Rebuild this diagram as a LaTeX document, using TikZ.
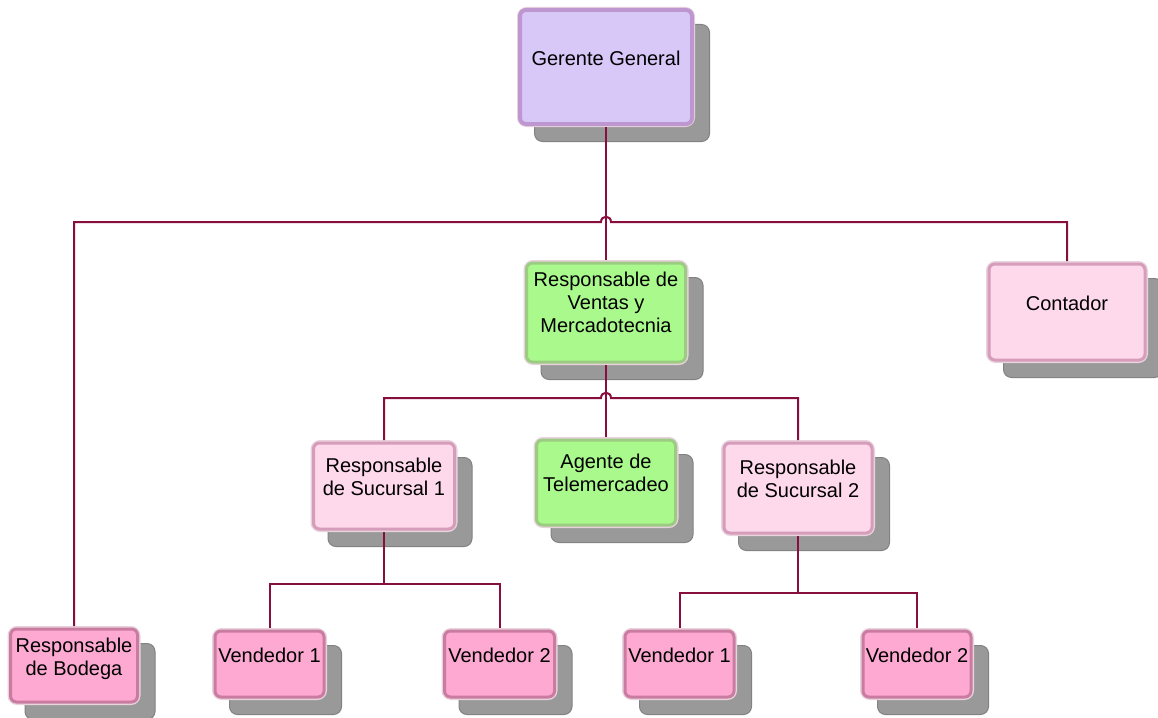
\documentclass[tikz,border=0pt]{standalone}
\usepackage{fontspec}
\setmainfont{Liberation Sans}
\usetikzlibrary{shadows}
\definecolor{lav}{HTML}{D8C8F8}
\definecolor{lavin}{HTML}{BE96D0}
\definecolor{grn}{HTML}{A9F98C}
\definecolor{grnin}{HTML}{9CCB82}
\definecolor{lpk}{HTML}{FED8EB}
\definecolor{lpkin}{HTML}{D69DBA}
\definecolor{pk}{HTML}{FDA9D2}
\definecolor{pkin}{HTML}{C97BA0}
\definecolor{outring}{HTML}{E9D2DE}
\definecolor{shadowgray}{HTML}{999999}
\definecolor{linecol}{HTML}{880E3E}
\tikzset{
  box/.style={rounded corners=8pt, line width=3pt, draw=outring, inner sep=0pt,
    general shadow={fill=shadowgray, draw=shadowgray!85!black, line width=1pt, shadow xshift=16pt, shadow yshift=-16pt}},
  lbl/.style={align=center, font=\fontsize{20}{23}\selectfont, inner sep=0pt},
  conn/.style={draw=linecol, line width=2pt},
}
\newcommand\ring[3]{\draw[rounded corners=6pt, line width=#3, draw=#2] ([xshift=3pt,yshift=-3pt]#1.north west) rectangle ([xshift=-3pt,yshift=3pt]#1.south east);}
\begin{document}
\begin{tikzpicture}[x=1pt,y=-1pt]
\useasboundingbox[fill=white] (0,0) rectangle (1158,717);
% boxes
\node[box, fill=lav, minimum width=175pt, minimum height=117pt] (G) at (606,67) {};
\ring{G}{lavin}{4pt}
\node[lbl] (Gt) at ([yshift=9pt]G.center) {Gerente General};

\node[box, fill=grn, minimum width=162pt, minimum height=102pt] (V) at (606,312.5) {};
\ring{V}{grnin}{3pt}
\node[lbl] (Vt) at ([yshift=10pt]V.center) {Responsable de\\Ventas y\\Mercadotecnia};

\node[box, fill=lpk, minimum width=159pt, minimum height=99pt] (C) at (1067,312) {};
\ring{C}{lpkin}{3pt}
\node[lbl] (Ct) at ([yshift=9pt]C.center) {Contador};

\node[box, fill=pk, minimum width=130pt, minimum height=76pt] (B) at (74,665.5) {};
\ring{B}{pkin}{3pt}
\node[lbl] (Bt) at ([yshift=7pt]B.center) {Responsable\\de Bodega};

\node[box, fill=lpk, minimum width=144pt, minimum height=89pt] (S1) at (384,486) {};
\ring{S1}{lpkin}{3pt}
\node[lbl] (S1t) at ([yshift=9pt]S1.center) {Responsable\\de Sucursal 1};

\node[box, fill=grn, minimum width=142pt, minimum height=88pt] (A) at (606,482.5) {};
\ring{A}{grnin}{3pt}
\node[lbl] (At) at ([yshift=10pt]A.center) {Agente de\\Telemercadeo};

\node[box, fill=lpk, minimum width=151pt, minimum height=93pt] (S2) at (798,488) {};
\ring{S2}{lpkin}{3pt}
\node[lbl] (S2t) at ([yshift=9pt]S2.center) {Responsable\\de Sucursal 2};

\node[box, fill=pk, minimum width=112pt, minimum height=69pt] (V1a) at (269.5,664) {};
\ring{V1a}{pkin}{3pt}
\node[lbl] (V1at) at ([yshift=9pt]V1a.center) {Vendedor 1};

\node[box, fill=pk, minimum width=113pt, minimum height=69pt] (V2a) at (499.5,664) {};
\ring{V2a}{pkin}{3pt}
\node[lbl] (V2at) at ([yshift=9pt]V2a.center) {Vendedor 2};

\node[box, fill=pk, minimum width=112pt, minimum height=69pt] (V1b) at (679.5,664) {};
\ring{V1b}{pkin}{3pt}
\node[lbl] (V1bt) at ([yshift=9pt]V1b.center) {Vendedor 1};

\node[box, fill=pk, minimum width=111pt, minimum height=69pt] (V2b) at (917,664) {};
\ring{V2b}{pkin}{3pt}
\node[lbl] (V2bt) at ([yshift=9pt]V2b.center) {Vendedor 2};

% connectors
\coordinate (h1) at (606,222);
\coordinate (h2) at (606,398);
\coordinate (j1) at (384,584);
\coordinate (j2) at (798,593);
\draw[conn] (G.south) -- (V.north);
\draw[conn] (B.north) |- ([xshift=-5pt]h1) .. controls ([xshift=-5pt,yshift=7pt]h1) and ([xshift=5pt,yshift=7pt]h1) .. ([xshift=5pt]h1) -| (C.north);
\draw[conn] (V.south) -- (A.north);
\draw[conn] (S1.north) |- ([xshift=-5pt]h2) .. controls ([xshift=-5pt,yshift=7pt]h2) and ([xshift=5pt,yshift=7pt]h2) .. ([xshift=5pt]h2) -| (S2.north);
\draw[conn] (S1.south) -- (j1);
\draw[conn] (V1a.north) |- (j1) -| (V2a.north);
\draw[conn] (S2.south) -- (j2);
\draw[conn] (V1b.north) |- (j2) -| (V2b.north);
\end{tikzpicture}
\end{document}
